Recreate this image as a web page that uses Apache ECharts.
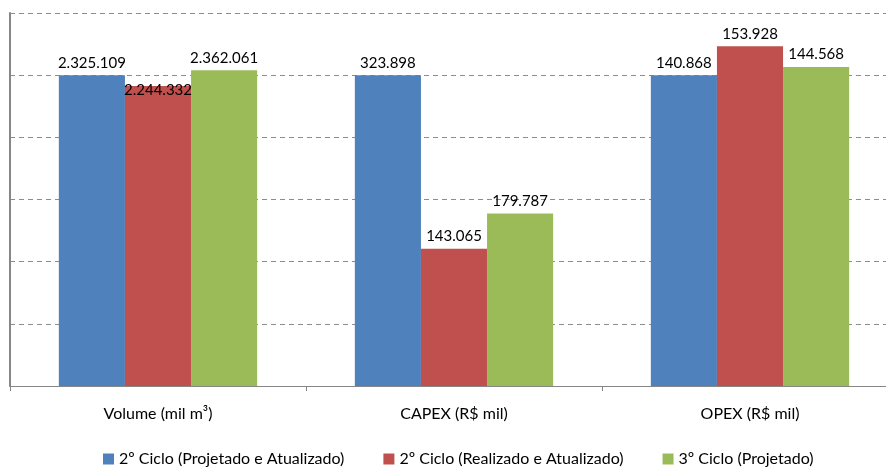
<!DOCTYPE html>
<html>
<head>
<meta charset="utf-8">
<script src="https://cdn.jsdelivr.net/npm/echarts@6/dist/echarts.min.js"></script>
<style>
  html, body { margin: 0; padding: 0; background: #fff; overflow: hidden; }
  /* plot area runs slightly past the right edge of the window */
  #chart { width: 898px; height: 468px; }
</style>
</head>
<body>
<div id="chart"></div>
<script>
// Categories and values per cycle
const categories = ['Volume (mil m³)', 'CAPEX (R$ mil)', 'OPEX (R$ mil)'];
const seriesNames = [
  '2º Ciclo (Projetado e Atualizado)',
  '2º Ciclo (Realizado e Atualizado)',
  '3º Ciclo (Projetado)'
];
const ciclo2Projetado = [2325109, 323898, 140868];
const ciclo2Realizado = [2244332, 143065, 153928];
const ciclo3Projetado = [2362061, 179787, 144568];
const colors = ['#4F81BD', '#C0504D', '#9BBB59'];

// Each group is scaled relative to the 2º Ciclo projected value (= 100)
const base = ciclo2Projetado;
const fmt = v => String(v).replace(/\B(?=(\d{3})+(?!\d))/g, '.');
const FONT = 'Lato, "Open Sans", sans-serif';

function makeSeries(name, values, color, idx) {
  return {
    name: name,
    type: 'bar',
    barGap: '0%',
    barCategoryGap: '33%',
    itemStyle: { color: color },
    data: values.map((v, i) => {
      const d = { value: v / base[i] * 100, raw: v };
      // first-group red label sits on the bar top
      if (idx === 1 && i === 0) d.label = { offset: [0, 17] };
      return d;
    }),
    label: {
      show: true,
      position: 'top',
      distance: 5,
      fontFamily: FONT,
      fontSize: 15,
      color: '#000',
      formatter: p => fmt(p.data.raw)
    }
  };
}

const chart = echarts.init(document.getElementById('chart'));
chart.setOption({
  animation: false,
  backgroundColor: '#fff',
  grid: { left: 10, top: 13, right: 0, bottom: 82, containLabel: false },
  legend: {
    top: 446,
    left: 98,
    itemWidth: 11,
    itemHeight: 11,
    itemGap: 39,
    icon: 'rect',
    textStyle: { fontFamily: FONT, fontSize: 16, color: '#000' },
    data: seriesNames
  },
  xAxis: {
    type: 'category',
    data: categories,
    axisLine: { lineStyle: { color: '#868686', width: 1 } },
    axisTick: { show: true, length: 5, lineStyle: { color: '#868686' } },
    axisLabel: { margin: 20, fontFamily: FONT, fontSize: 16, color: '#000' }
  },
  yAxis: {
    type: 'value',
    min: 0,
    max: 120,
    interval: 20,
    axisLine: { show: true, lineStyle: { color: '#868686', width: 2 } },
    axisTick: { show: false },
    axisLabel: { show: false },
    splitLine: { lineStyle: { color: '#8c8c8c', type: [5, 4], width: 1 } }
  },
  series: [
    makeSeries(seriesNames[0], ciclo2Projetado, colors[0], 0),
    makeSeries(seriesNames[1], ciclo2Realizado, colors[1], 1),
    makeSeries(seriesNames[2], ciclo3Projetado, colors[2], 2)
  ]
});
</script>
</body>
</html>
